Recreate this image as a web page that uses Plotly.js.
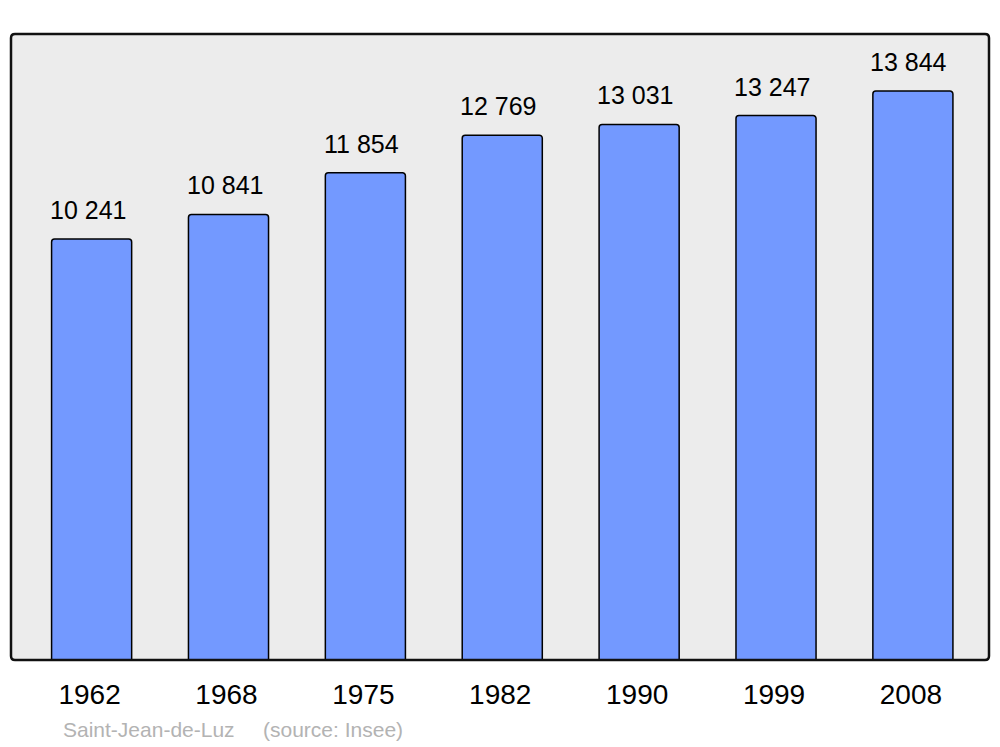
<!DOCTYPE html>
<html>
<head>
<meta charset="utf-8">
<script src="https://cdn.plot.ly/plotly-3.0.1.min.js"></script>
<style>html,body{margin:0;padding:0;background:#fff;}#chart{width:1000px;height:747px;}</style>
</head>
<body>
<div id="chart"></div>
<script>
const years = ["1962", "1968", "1975", "1982", "1990", "1999", "2008"];
const population = [10241, 10841, 11854, 12769, 13031, 13247, 13844];
const valueLabels = ["10 241", "10 841", "11 854", "12 769", "13 031", "13 247", "13 844"];
const townName = "Saint-Jean-de-Luz";
const sourceText = "(source: Insee)";

const FONT = "Liberation Sans, Arial, sans-serif";

const annotations = years.map((y, i) => ({
  x: i, y: population[i], xref: 'x', yref: 'y',
  text: valueLabels[i], showarrow: false,
  xanchor: 'center', yanchor: 'bottom', xshift: -4, yshift: 13,
  font: {family: FONT, size: 25, color: '#000'}
}));
annotations.push({
  xref: 'paper', yref: 'paper', x: 0.051, y: -0.1118, xanchor: 'left', yanchor: 'middle',
  text: townName, showarrow: false, font: {family: FONT, size: 21, color: '#b3b3b3'}
});
annotations.push({
  xref: 'paper', yref: 'paper', x: 0.2556, y: -0.1118, xanchor: 'left', yanchor: 'middle',
  text: sourceText, showarrow: false, font: {family: FONT, size: 21, color: '#b3b3b3'}
});

const trace = {
  type: 'bar',
  x: years.map((_, i) => i),
  y: population,
  width: 0.585,
  marker: {color: '#7399ff', line: {color: '#000', width: 1.5}, cornerradius: 3},
  hoverinfo: 'skip'
};

// rounded frame path in paper coordinates
const rx = 4 / 978, ry = 4 / 626;
const framePath = `M ${rx},0 L ${1 - rx},0 Q 1,0 1,${ry} L 1,${1 - ry} Q 1,1 ${1 - rx},1 L ${rx},1 Q 0,1 0,${1 - ry} L 0,${ry} Q 0,0 ${rx},0 Z`;

const layout = {
  width: 1000, height: 747,
  margin: {l: 11, r: 11, t: 34, b: 87, pad: 0},
  paper_bgcolor: '#ffffff',
  plot_bgcolor: '#ececec',
  showlegend: false,
  font: {family: FONT},
  xaxis: {
    range: [-0.589, 6.556],
    tickmode: 'array',
    tickvals: years.map((_, i) => i),
    ticktext: years,
    tickfont: {family: FONT, size: 28, color: '#000'},
    showgrid: false, zeroline: false, showline: false, ticks: '',
    ticklabelstandoff: 15,
    ticklabelshift: -2,
    fixedrange: true
  },
  yaxis: {
    range: [0, 15230],
    showgrid: false, zeroline: false, showline: false,
    showticklabels: false, ticks: '', fixedrange: true
  },
  shapes: [{
    type: 'path', xref: 'paper', yref: 'paper', path: framePath,
    line: {color: '#111', width: 2.5}, fillcolor: 'rgba(0,0,0,0)', layer: 'above'
  }],
  annotations: annotations
};

Plotly.newPlot('chart', [trace], layout, {displayModeBar: false, staticPlot: true});
</script>
</body>
</html>
